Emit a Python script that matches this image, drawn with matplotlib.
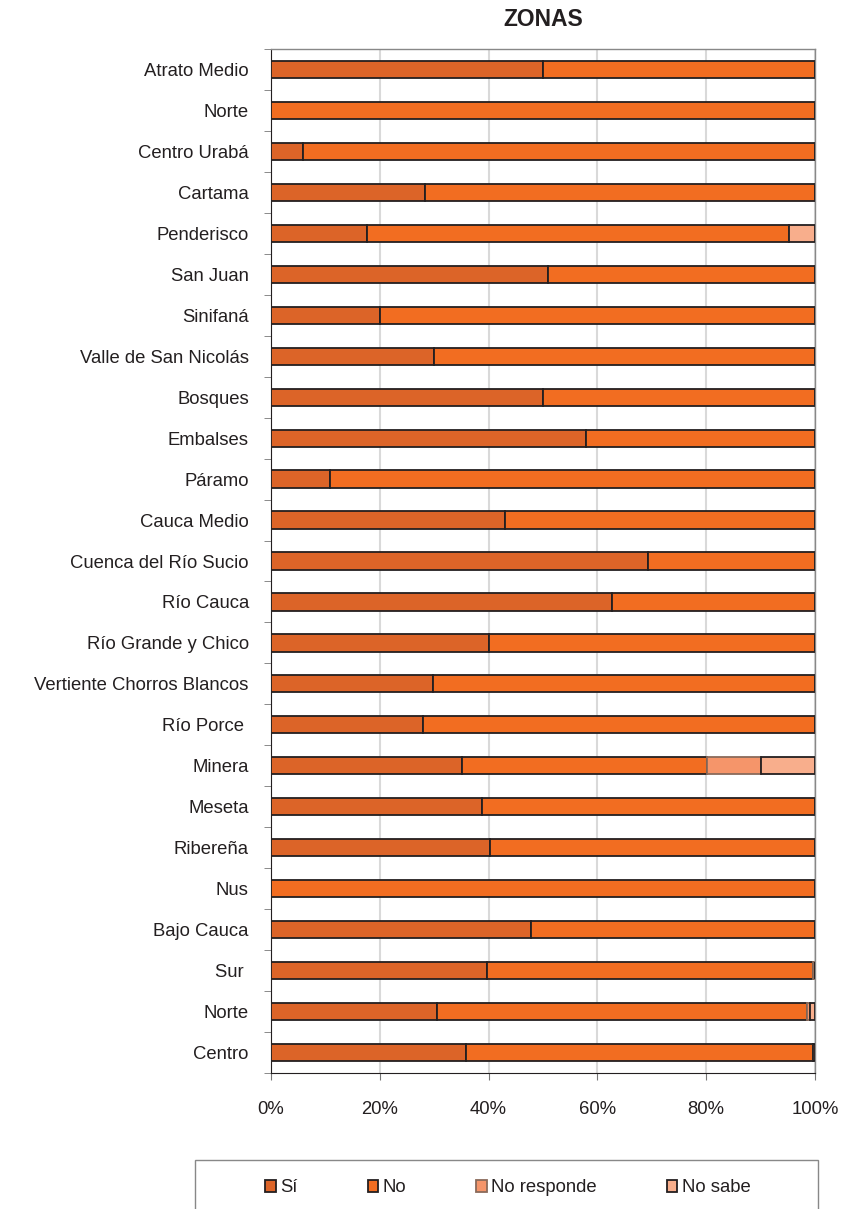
import matplotlib
matplotlib.use("Agg")
import matplotlib.pyplot as plt
from matplotlib.patches import Rectangle
import numpy as np

plt.rcParams['font.family'] = ['Liberation Sans', 'DejaVu Sans']

categories = ["Atrato Medio", "Norte", "Centro Urabá", "Cartama", "Penderisco",
              "San Juan", "Sinifaná", "Valle de San Nicolás", "Bosques", "Embalses",
              "Páramo", "Cauca Medio", "Cuenca del Río Sucio", "Río Cauca",
              "Río Grande y Chico", "Vertiente Chorros Blancos", "Río Porce ",
              "Minera", "Meseta", "Ribereña", "Nus", "Bajo Cauca", "Sur ", "Norte", "Centro"]
si = [50.0, 0.0, 5.9, 28.3, 17.6, 50.9, 20.0, 30.0, 50.0, 57.9, 10.8, 43.0, 69.3, 62.7,
      40.0, 29.8, 27.9, 35.1, 38.8, 40.3, 0.0, 47.8, 39.7, 30.5, 35.8]
no = [50.0, 100.0, 94.1, 71.7, 77.6, 49.1, 80.0, 70.0, 50.0, 42.1, 89.2, 57.0, 30.7, 37.3,
      60.0, 70.2, 72.1, 45.0, 61.2, 59.7, 100.0, 52.2, 59.9, 68.0, 63.8]
no_responde = [0, 0, 0, 0, 0, 0, 0, 0, 0, 0, 0, 0, 0, 0,
               0, 0, 0, 9.9, 0, 0, 0, 0, 0.4, 0.5, 0]
no_sabe = [0, 0, 0, 0, 4.8, 0, 0, 0, 0, 0, 0, 0, 0, 0,
           0, 0, 0, 10.0, 0, 0, 0, 0, 0, 1.0, 0.4]
series_names = ["Sí", "No", "No responde", "No sabe"]
xticklabels = ["0%", "20%", "40%", "60%", "80%", "100%"]

colors = ["#DC6428", "#F26D21", "#F5956A", "#F8AE8C"]
edges = ["#231F20", "#231F20", "#8a6a5a", "#231F20"]

FS = 13.3

fig = plt.figure(figsize=(8.6, 12.09), dpi=100)
ax = fig.add_axes([271/860, 1-1073/1209, 544/860, (1073-49)/1209])

y = np.arange(len(categories))
left = np.zeros(len(categories))
for name, vals, c, ec in zip(series_names, [si, no, no_responde, no_sabe], colors, edges):
    vals = np.array(vals, dtype=float)
    ax.barh(y, vals, left=left, height=0.42, color=c, edgecolor=ec, linewidth=1.3,
            label=name, zorder=3)
    left += vals

ax.set_ylim(len(categories) - 0.5, -0.5)
ax.set_xlim(0, 100)
ax.set_yticks(y)
ax.set_yticklabels(categories, fontsize=FS, color='#231F20')
ax.set_yticks(np.arange(len(categories) + 1) - 0.5, minor=True)
ax.tick_params(axis='y', which='major', length=0, pad=16)
ax.tick_params(axis='y', which='minor', length=5, color='#777777', direction='out')
ax.set_xticks(np.arange(0, 101, 20))
ax.set_xticklabels(xticklabels, fontsize=FS, color='#231F20')
ax.tick_params(axis='x', length=5, color='#777777', pad=15)
ax.xaxis.grid(True, color='#d9d9d9', linewidth=1.5, zorder=0)
ax.set_axisbelow(True)
for s in ['top', 'right']:
    ax.spines[s].set_color('#888888')
    ax.spines[s].set_linewidth(1)
ax.spines['left'].set_color('#231F20')
ax.spines['bottom'].set_color('#231F20')

fig.text(543/860, 1-20/1209, "ZONAS", ha='center', va='center', fontsize=16.5,
         fontweight='bold', color='#231F20')

# legend frame (extends past the bottom edge like the reference)
fig.patches.append(Rectangle((195/860, -0.02), (818-195)/860, 0.02 + 1-1160/1209,
                             transform=fig.transFigure, fill=False,
                             edgecolor='#888888', linewidth=1))
leg = fig.legend(loc='center', bbox_to_anchor=(508/860, 1-1188/1209), ncol=4,
                 fontsize=FS, frameon=False,
                 handlelength=0.55, handleheight=0.55, handletextpad=0.25,
                 columnspacing=3.8, borderpad=0, borderaxespad=0)
for t in leg.get_texts():
    t.set_color('#231F20')

fig.savefig("out.png", dpi=100)
